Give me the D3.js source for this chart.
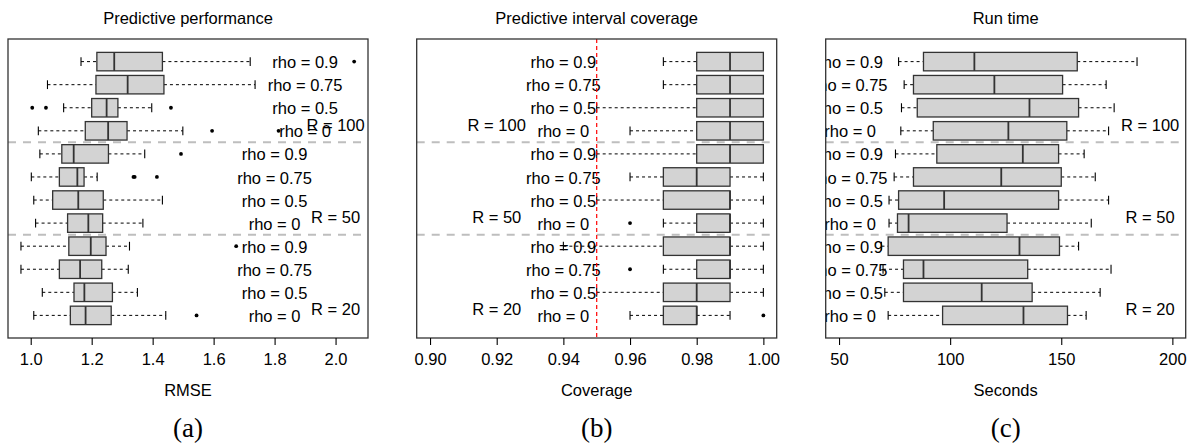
<!DOCTYPE html>
<html>
<head>
<meta charset="utf-8">
<title>Boxplots - RMSE, coverage, run time</title>
<script src="https://d3js.org/d3.v7.min.js"></script>
<style>
    body { margin: 0; background: #fff; }
    svg { display: block; font-family: "Liberation Sans", Arial, sans-serif; }
</style>
</head>
<body>
<script>
var w = 1189, h = 445;

var groups = ["R = 100", "R = 50", "R = 20"];
var rhos = ["rho = 0.9", "rho = 0.75", "rho = 0.5", "rho = 0"];

// each box: [lower whisker, q1, median, q3, upper whisker], top row first
var rmseStats = [
    [1.165, 1.217, 1.274, 1.432, 1.720],
    [1.055, 1.214, 1.318, 1.437, 1.736],
    [1.108, 1.200, 1.249, 1.286, 1.397],
    [1.025, 1.179, 1.254, 1.316, 1.499],
    [1.030, 1.102, 1.141, 1.255, 1.374],
    [1.002, 1.094, 1.153, 1.175, 1.218],
    [1.010, 1.072, 1.156, 1.238, 1.432],
    [1.016, 1.121, 1.189, 1.236, 1.368],
    [0.968, 1.125, 1.197, 1.247, 1.324],
    [0.968, 1.094, 1.162, 1.233, 1.320],
    [1.038, 1.142, 1.176, 1.268, 1.350],
    [1.010, 1.130, 1.180, 1.264, 1.443]
];
var rmseOut = [
    [2.061], [], [1.005, 1.050, 1.460], [1.595, 1.813],
    [1.493], [1.337, 1.341, 1.414], [], [],
    [1.674], [], [], [1.544]
];

var coverStats = [
    [0.97, 0.98, 0.99, 1.00, 1.00],
    [0.97, 0.98, 0.99, 1.00, 1.00],
    [0.95, 0.98, 0.99, 1.00, 1.00],
    [0.96, 0.98, 0.99, 1.00, 1.00],
    [0.95, 0.98, 0.99, 1.00, 1.00],
    [0.96, 0.97, 0.98, 0.99, 1.00],
    [0.95, 0.97, 0.99, 0.99, 1.00],
    [0.97, 0.98, 0.99, 0.99, 1.00],
    [0.94, 0.97, 0.99, 0.99, 1.00],
    [0.97, 0.98, 0.99, 0.99, 1.00],
    [0.95, 0.97, 0.98, 0.99, 1.00],
    [0.96, 0.97, 0.98, 0.98, 0.99]
];
var coverOut = [
    [], [], [], [],
    [], [], [], [0.96],
    [], [0.96], [], [1.00]
];

var timeStats = [
    [76.8, 88.0, 110.9, 157.2, 184.1],
    [79.3, 83.5, 119.9, 150.6, 170.2],
    [78.1, 85.2, 135.7, 157.8, 173.8],
    [77.8, 92.4, 126.2, 152.5, 171.3],
    [75.4, 94.0, 132.7, 148.8, 160.3],
    [74.8, 83.5, 123.0, 150.0, 165.3],
    [72.5, 76.8, 97.3, 148.8, 171.3],
    [72.5, 76.3, 81.3, 125.6, 163.5],
    [69.1, 72.1, 131.2, 149.2, 157.8],
    [69.8, 79.0, 88.0, 134.9, 172.4],
    [70.6, 79.0, 114.2, 136.9, 167.5],
    [72.1, 96.6, 133.0, 152.8, 161.2]
];
var timeOut = [[], [], [], [], [], [], [], [], [], [], [], []];

var rmseTicks = [1.0, 1.2, 1.4, 1.6, 1.8, 2.0];
var coverTicks = [0.90, 0.92, 0.94, 0.96, 0.98, 1.00];
var timeTicks = [50, 100, 150, 200];

var panels = [
    { title: "Predictive performance", xlab: "RMSE", tag: "(a)", stats: rmseStats, out: rmseOut,
      domain: [0.9255, 2.1064], ticks: rmseTicks, fmt: d3.format(".1f"), left: 8,
      rhoX: [1.9, 1.8, 1.8], rX: 2.0, ref: null },
    { title: "Predictive interval coverage", xlab: "Coverage", tag: "(b)", stats: coverStats, out: coverOut,
      domain: [0.896, 1.004], ticks: coverTicks, fmt: d3.format(".2f"), left: 416.7,
      rhoX: [0.94, 0.94, 0.94], rX: 0.92, ref: 0.95 },
    { title: "Run time", xlab: "Seconds", tag: "(c)", stats: timeStats, out: timeOut,
      domain: [44, 206], ticks: timeTicks, fmt: d3.format("d"), left: 825.7,
      rhoX: [55, 55, 55], rX: 190, ref: null }
];

var pw = 360, plotTop = 39, plotBottom = 338;
var y = d3.scaleLinear().domain([0.02, 12.98]).range([plotBottom, plotTop]);
var bh = 0.4, cap = 0.19;

var svg = d3.select("body").append("svg")
    .attr("width", w)
    .attr("height", h);

panels.forEach(function(p, k) {
    var x = d3.scaleLinear().domain(p.domain).range([p.left, p.left + pw]);
    var cx = p.left + pw / 2;

    svg.append("clipPath").attr("id", "clip" + k)
        .append("rect")
        .attr("x", p.left).attr("y", plotTop)
        .attr("width", pw).attr("height", plotBottom - plotTop);

    var g = svg.append("g").attr("clip-path", "url(#clip" + k + ")");

    // group separators
    g.selectAll("line.sep")
        .data([8.5, 4.5])
        .enter().append("line")
        .attr("class", "sep")
        .attr("x1", p.left).attr("x2", p.left + pw)
        .attr("y1", function(d) { return y(d); })
        .attr("y2", function(d) { return y(d); })
        .attr("stroke", "#bebebe")
        .attr("stroke-width", 2)
        .attr("stroke-dasharray", "8,7");

    var rows = g.selectAll("g.row")
        .data(p.stats)
        .enter().append("g")
        .attr("class", "row");

    // whiskers
    rows.append("line")
        .attr("x1", function(d) { return x(d[0]); })
        .attr("x2", function(d) { return x(d[1]); })
        .attr("y1", function(d, i) { return y(12 - i); })
        .attr("y2", function(d, i) { return y(12 - i); });
    rows.append("line")
        .attr("x1", function(d) { return x(d[3]); })
        .attr("x2", function(d) { return x(d[4]); })
        .attr("y1", function(d, i) { return y(12 - i); })
        .attr("y2", function(d, i) { return y(12 - i); });
    rows.selectAll("line")
        .attr("stroke", "#000")
        .attr("stroke-width", 1)
        .attr("stroke-dasharray", "3,3");

    // staples
    [0, 4].forEach(function(j) {
        rows.append("line")
            .attr("x1", function(d) { return x(d[j]); })
            .attr("x2", function(d) { return x(d[j]); })
            .attr("y1", function(d, i) { return y(12 - i + cap); })
            .attr("y2", function(d, i) { return y(12 - i - cap); })
            .attr("stroke", "#000")
            .attr("stroke-width", 1.1);
    });

    // boxes
    rows.append("rect")
        .attr("x", function(d) { return x(d[1]); })
        .attr("width", function(d) { return x(d[3]) - x(d[1]); })
        .attr("y", function(d, i) { return y(12 - i + bh); })
        .attr("height", function(d, i) { return y(12 - i - bh) - y(12 - i + bh); })
        .attr("fill", "#d3d3d3")
        .attr("stroke", "#333")
        .attr("stroke-width", 1.3);

    // medians
    rows.append("line")
        .attr("x1", function(d) { return x(d[2]); })
        .attr("x2", function(d) { return x(d[2]); })
        .attr("y1", function(d, i) { return y(12 - i + bh); })
        .attr("y2", function(d, i) { return y(12 - i - bh); })
        .attr("stroke", "#333")
        .attr("stroke-width", 1.8);

    // outliers
    rows.each(function(d, i) {
        d3.select(this).selectAll("circle")
            .data(p.out[i])
            .enter().append("circle")
            .attr("cx", function(v) { return x(v); })
            .attr("cy", y(12 - i))
            .attr("r", 1.9)
            .attr("fill", "#000");
    });

    // rho labels
    g.selectAll("text.rho")
        .data(p.stats)
        .enter().append("text")
        .attr("class", "rho")
        .attr("x", function(d, i) { return x(p.rhoX[Math.floor(i / 4)]); })
        .attr("y", function(d, i) { return y(12 - i); })
        .attr("dy", "0.4em")
        .attr("text-anchor", "middle")
        .style("font-size", "16.5px")
        .text(function(d, i) { return rhos[i % 4]; });

    // R labels
    g.selectAll("text.grp")
        .data(groups)
        .enter().append("text")
        .attr("class", "grp")
        .attr("x", x(p.rX))
        .attr("y", function(d, i) { return y(9 - 4 * i + 0.3); })
        .attr("dy", "0.4em")
        .attr("text-anchor", "middle")
        .style("font-size", "16.5px")
        .text(function(d) { return d; });

    if (p.ref !== null) {
        g.append("line")
            .attr("x1", x(p.ref)).attr("x2", x(p.ref))
            .attr("y1", plotTop).attr("y2", plotBottom)
            .attr("stroke", "#ff0000")
            .attr("stroke-width", 1.2)
            .attr("stroke-dasharray", "4,3");
    }

    // frame
    svg.append("rect")
        .attr("x", p.left).attr("y", plotTop)
        .attr("width", pw).attr("height", plotBottom - plotTop)
        .attr("fill", "none")
        .attr("stroke", "#333")
        .attr("stroke-width", 1.3);

    // x axis
    var axis = svg.append("g")
        .attr("transform", "translate(0," + plotBottom + ")")
        .call(d3.axisBottom(x).tickValues(p.ticks).tickFormat(p.fmt)
            .tickSize(7).tickSizeOuter(0).tickPadding(8));
    axis.select(".domain").remove();
    axis.selectAll(".tick line").attr("stroke", "#000").attr("stroke-width", 1.1);
    axis.selectAll(".tick text")
        .attr("fill", "#000")
        .style("font-size", "16.5px")
        .style("font-family", "'Liberation Sans', Arial, sans-serif");

    svg.append("text")
        .attr("x", cx).attr("y", 24)
        .attr("text-anchor", "middle")
        .style("font-size", "16.5px")
        .text(p.title);

    svg.append("text")
        .attr("x", cx).attr("y", 395.5)
        .attr("text-anchor", "middle")
        .style("font-size", "16.5px")
        .text(p.xlab);

    svg.append("text")
        .attr("x", cx).attr("y", 437)
        .attr("text-anchor", "middle")
        .style("font-family", "'Liberation Serif', 'DejaVu Serif', serif")
        .style("font-size", "27px")
        .text(p.tag);
});
</script>
</body>
</html>
